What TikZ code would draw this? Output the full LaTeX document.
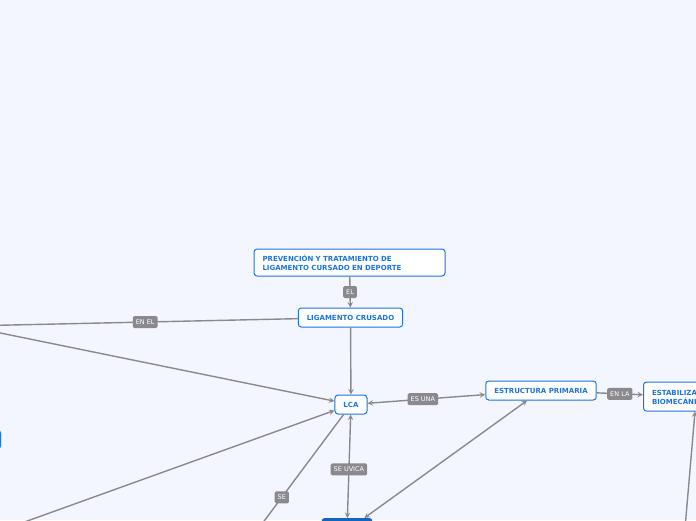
\documentclass[tikz,border=0pt]{standalone}
\usepackage{fontspec}
\setmainfont{DejaVu Sans}
\definecolor{bgcol}{HTML}{F3F6FE}
\definecolor{topicblue}{HTML}{1F74DE}
\definecolor{linkgray}{HTML}{8A8A8E}
\definecolor{darktopic}{HTML}{1565C0}
\begin{document}
\begin{tikzpicture}[x=1pt, y=-1pt, line cap=round, line join=round, >=stealth,
    topic/.style={draw=topicblue, line width=1pt, fill=white, rounded corners=3pt,
      text=topicblue, font=\bfseries\fontsize{7}{9}\selectfont,
      inner xsep=8.5pt, inner ysep=3pt, minimum height=19pt},
    linklabel/.style={fill=linkgray, rounded corners=1.5pt, text=white,
      font=\fontsize{6.5}{7}\selectfont, inner xsep=3pt, inner ysep=1pt,
      minimum height=12pt},
    link/.style={draw=linkgray, line width=1.4pt}]
  % Page size and background
  \useasboundingbox (0,0) rectangle (696,520);
  \fill[bgcol] (0,0) rectangle (696,520);

  \begin{scope}
    \clip (0,0) rectangle (696,520);

    % Topics
    \node[topic, text width=174pt, align=left, minimum height=27pt] (prev) at (349.5,262.5)
      {PREVENCIÓN Y TRATAMIENTO DE\\LIGAMENTO CURSADO EN DEPORTE};
    \node[topic] (lig) at (350.5,317.5) {LIGAMENTO CRUSADO};
    \node[topic] (lca) at (351,404.5) {LCA};
    \node[topic] (estr) at (541,390.5) {ESTRUCTURA PRIMARIA};
    \node[topic, anchor=west, align=left, minimum height=29pt] (estab) at (643,396.5)
      {ESTABILIZACIÓN\\BIOMECÁNICA};
    \node[topic, anchor=east, minimum width=90pt] (side) at (1,439.5) {};
    \node[topic, draw=darktopic, fill=darktopic, anchor=north, minimum width=50pt,
      minimum height=24pt] (base) at (347,518) {};

    % Free ends outside the page
    \coordinate (hidden) at (-34,326);
    \coordinate (lowleft) at (-20,538);
    \coordinate (selow) at (250,540);
    \coordinate (lowright) at (684,540);

    % Connectors
    \draw[link, ->] (prev) -- node[linklabel]{EL} (lig);
    \draw[link] (lig) -- node[linklabel, pos=0.46]{EN EL} (hidden);
    \draw[link, ->] (hidden) -- (lca);
    \draw[link, ->] (lig) -- (lca);
    \draw[link, <->] (lca) -- node[linklabel, pos=0.47]{ES UNA} (estr);
    \draw[link, ->] (estr) -- node[linklabel, pos=0.5]{EN LA} (estab);
    \draw[link, ->] (lowright) -- ([xshift=52pt]estab.south west);
    \draw[link, ->] (lowleft) -- (lca);
    \draw[link, ->] (lca) -- node[linklabel, pos=0.66]{SE} (selow);
    \draw[link, <->] (lca) -- node[linklabel, pos=0.53]{SE UVICA} (base);
    \draw[link, <->] (estr) -- (base);
  \end{scope}
\end{tikzpicture}
\end{document}
